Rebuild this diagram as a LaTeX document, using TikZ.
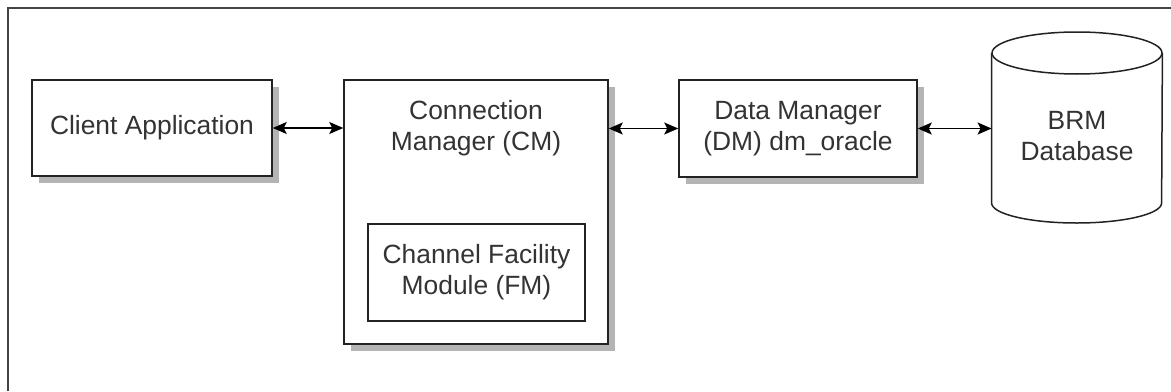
\documentclass[tikz,border=0pt]{standalone}
\usepackage{fontspec}
\setmainfont{Liberation Sans}
\usetikzlibrary{shadows,arrows.meta}

\definecolor{linegray}{HTML}{222222}
\definecolor{textgray}{HTML}{333333}
\definecolor{framegray}{HTML}{444444}
\definecolor{shadowgray}{HTML}{B4B4B4}

\tikzset{
  box/.style={draw=linegray, line width=0.75pt, fill=white, align=center,
    text=textgray, inner sep=0pt,
    drop shadow={shadow xshift=3.5pt, shadow yshift=-3.5pt, fill=shadowgray, opacity=1}},
  plainbox/.style={draw=linegray, line width=0.75pt, fill=white, align=center,
    text=textgray, inner sep=0pt},
  label text/.style={align=center, text=textgray, inner sep=0pt},
  link/.style={draw=black, line width=0.75pt,
    {Stealth[length=7pt,width=6pt,inset=1.5pt]}-{Stealth[length=7pt,width=6pt,inset=1.5pt]}},
}

\begin{document}
\begin{tikzpicture}[x=0.5pt, y=-0.5pt,
  font=\fontsize{13.2}{15.5}\selectfont]
  \useasboundingbox (0,0) rectangle (1171,391);

  % outer frame (only top and left edges show)
  \draw[framegray, line width=0.9pt] (8,391) -- (8,8) -- (1171,8);

  % boxes
  \node[box, minimum width=120pt, minimum height=48pt] (client) at (152,128) {Client Application};
  \node[box, minimum width=132pt, minimum height=132pt] (cm) at (476,212) {};
  \node[label text] (cmtext) at (476,128) {Connection\\Manager (CM)};
  \node[plainbox, minimum width=108.5pt, minimum height=48.5pt] (fm) at (476.5,272.5) {Channel Facility\\Module (FM)};
  \node[box, minimum width=119pt, minimum height=48.5pt] (dm) at (798,128.5) {Data Manager\\(DM) dm\_oracle};

  % database cylinder
  \node[label text, minimum width=85pt] (db) at (1077,136) {BRM\\Database};
  \draw[linegray, line width=0.75pt]
    ([yshift=41.5pt]db.west) -- ([yshift=-33.5pt]db.west)
    arc[start angle=180, end angle=360, x radius=42.5pt, y radius=10pt]
    -- ([yshift=41.5pt]db.east);
  \draw[linegray, line width=0.75pt] ([yshift=41.5pt]db.center) ellipse[x radius=42.5pt, y radius=10.5pt];

  % connectors
  \draw[link] (client.east) -- (client.east -| cm.west);
  \draw[link] (dm.west -| cm.east) -- (dm.west);
  \draw[link] (dm.east) -- (dm.east -| db.west);
\end{tikzpicture}
\end{document}
